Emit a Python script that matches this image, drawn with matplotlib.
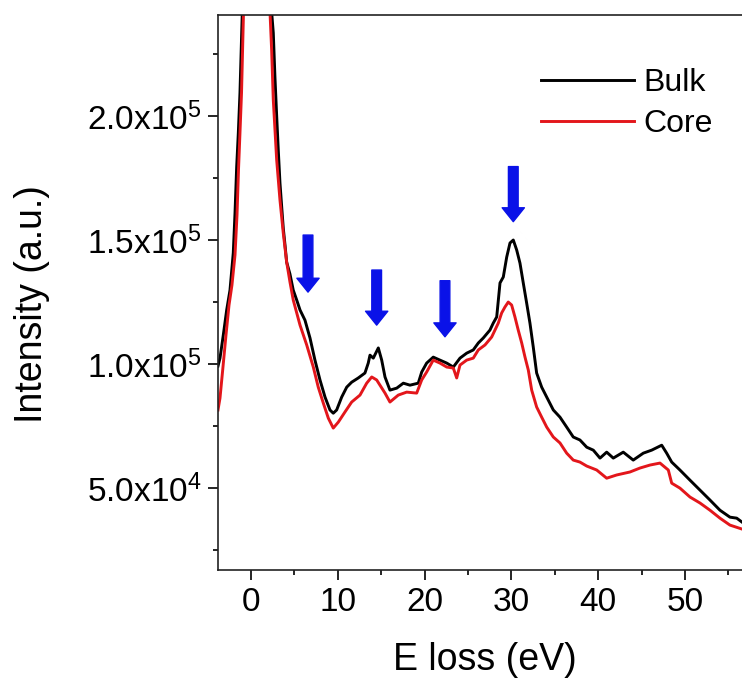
import matplotlib
matplotlib.use("Agg")
import matplotlib.pyplot as plt
from matplotlib.ticker import MultipleLocator, FuncFormatter

plt.rcParams['font.family'] = ['Liberation Sans', 'DejaVu Sans']
plt.rcParams['mathtext.fontset'] = 'custom'
plt.rcParams['mathtext.rm'] = 'Liberation Sans'

# spectra (E loss in eV, intensity in counts)
bulk_e = [-3.80, -3.57, -3.19, -2.80, -2.42, -2.04, -1.84, -1.65, -1.46, -1.27, -1.07, -1.00,
          0.80,
          2.38, 2.57, 2.76, 2.96, 3.15, 3.34, 3.54, 3.72, 3.92, 4.11, 4.49, 4.87, 5.27, 5.65,
          6.22, 6.80, 7.37, 7.95, 8.53, 9.10, 9.48, 9.87, 10.45, 11.03, 11.60, 12.36, 13.13,
          13.51, 13.71, 14.09, 14.67, 15.06, 15.44, 16.01, 16.79, 17.55, 18.32, 19.27, 19.67,
          20.24, 21.00, 21.77, 22.55, 23.31, 24.08, 24.85, 25.61, 26.19, 26.76, 27.53, 27.91,
          28.31, 28.69, 29.07, 29.46, 29.84, 30.22, 30.61, 30.99, 31.37, 31.76, 32.14, 32.52,
          32.91, 33.49, 34.07, 34.83, 35.60, 36.37, 37.13, 37.90, 38.68, 39.44, 40.21, 40.98,
          41.74, 42.89, 44.04, 45.20, 46.16, 47.32, 47.89, 48.47, 49.42, 50.58, 51.73, 52.88,
          54.03, 55.18, 55.96, 56.57]
bulk_i = [99200, 102400, 111700, 121800, 129800, 144800, 160900, 179400, 193100, 209300, 233500, 241900,
          600000,
          241900, 233500, 215700, 200000, 185900, 173000, 163300, 154800, 148000, 141100, 136300, 129800, 125800, 121800,
          117700, 110500, 101600, 93600, 86700, 81500, 80200, 81500, 86700, 90700, 92700, 94400, 96400,
          100400, 103600, 102400, 106500, 101600, 94800, 89500, 90300, 92300, 91500, 92300, 96800,
          100400, 102800, 101600, 100400, 98800, 102400, 104400, 105700, 108500, 110500, 113700, 116500,
          119000, 132700, 135100, 143100, 148800, 150000, 146000, 140700, 132700, 124600, 116500, 106900,
          96400, 90700, 86700, 81500, 78600, 74600, 70600, 69400, 66500, 65300, 62100, 64500,
          62100, 64500, 61300, 64100, 65300, 67300, 64100, 60500, 57300, 53200, 49200, 45200,
          41100, 38300, 37900, 36300]

core_e = [-3.80, -3.57, -3.26, -2.88, -2.53, -2.19, -1.84, -1.61, -1.44, -1.27, -1.09, -0.92, -0.86,
          0.70,
          2.19, 2.38, 2.57, 2.96, 3.34, 3.72, 4.11, 4.49, 4.87, 5.65, 6.42, 7.18, 7.75, 8.33,
          8.91, 9.48, 10.06, 10.83, 11.60, 12.56, 13.33, 13.91, 14.48, 14.86, 15.44, 16.01,
          16.97, 17.94, 19.09, 19.67, 20.24, 21.00, 21.77, 22.55, 23.31, 23.70, 24.08, 24.85,
          25.61, 26.19, 26.96, 27.73, 28.49, 28.88, 29.26, 29.64, 30.03, 30.41, 30.79, 31.19,
          31.57, 31.95, 32.34, 32.91, 33.49, 34.07, 34.83, 35.60, 36.37, 37.13, 37.90, 38.68,
          39.83, 40.98, 42.13, 43.66, 44.82, 45.97, 47.12, 48.08, 48.47, 49.42, 50.58, 51.73,
          52.88, 54.03, 55.18, 56.57]
core_i = [81500, 86300, 97600, 111700, 123800, 131900, 144000, 160100, 178200, 193100, 209300, 233500, 241900,
          600000,
          241900, 226600, 206500, 182300, 166100, 152800, 141100, 133100, 125800, 115700, 107700, 98800, 90700, 84300,
          78200, 74200, 76600, 80700, 84700, 87500, 92300, 94800, 93600, 91500, 88300, 84700,
          87500, 88700, 88300, 93600, 96800, 101600, 100400, 98800, 98400, 94400, 99600, 101600,
          102400, 105700, 107700, 110900, 116500, 120600, 123000, 125000, 123800, 119000, 113700, 108500,
          102800, 97600, 89500, 82700, 78600, 74600, 70600, 68200, 64100, 61300, 60500, 58900,
          57300, 54000, 55300, 56500, 58100, 59300, 60100, 57300, 52000, 50000, 46400, 44000,
          41100, 37900, 35100, 33500]

# blue arrows marking the plasmon features: (E, tail, tip)
arrow_e = [6.57, 14.48, 22.35, 30.22]
arrow_top = [152000, 137900, 133600, 179600]
arrow_tip = [129000, 115700, 111000, 157400]

fig = plt.figure(figsize=(7.42, 6.83), dpi=100)
ax = fig.add_axes([218 / 742, 1 - 570 / 683, 1 - 218 / 742, 555 / 683])

ax.plot(bulk_e, bulk_i, color='black', lw=2.1, label='Bulk')
ax.plot(core_e, core_i, color='#e3161b', lw=2.1, label='Core')

for e, t0, t1 in zip(arrow_e, arrow_top, arrow_tip):
    ax.annotate('', xy=(e, t1), xytext=(e, t0),
                arrowprops=dict(facecolor='#0a12e8', edgecolor='#0a12e8',
                                width=7, headwidth=16, headlength=10, shrink=0))

ax.set_xlim(-3.8, 56.57)
ax.set_ylim(17000, 240700)

ax.xaxis.set_major_locator(MultipleLocator(10))
ax.xaxis.set_minor_locator(MultipleLocator(5))
ax.yaxis.set_major_locator(MultipleLocator(50000))
ax.yaxis.set_minor_locator(MultipleLocator(25000))


def sci(v, pos):
    if v <= 0:
        return ''
    exp = 0
    m = v
    while m >= 10:
        m /= 10
        exp += 1
    return r'$\mathregular{%.1fx10^{%d}}$' % (m, exp)


ax.yaxis.set_major_formatter(FuncFormatter(sci))
ax.tick_params(which='major', direction='out', length=7, width=1.2, labelsize=24, pad=5)
ax.tick_params(which='minor', direction='out', length=3.6, width=1.2)
ax.spines['right'].set_visible(False)
for s in ['left', 'bottom', 'top']:
    ax.spines[s].set_linewidth(1.2)
    ax.spines[s].set_color('#222222')

ax.set_xlabel('E loss (eV)', fontsize=27)
ax.set_ylabel('Intensity (a.u.)', fontsize=27)
ax.xaxis.set_label_coords(0.51, -0.13)
ax.yaxis.set_label_coords(-0.32, 0.48)

ax.legend(loc='upper left', bbox_to_anchor=(0.617, 0.905), frameon=False, fontsize=23,
          handlelength=2.9, handletextpad=0.3, labelspacing=0.35, borderpad=0, borderaxespad=0)

fig.savefig('out.png', dpi=100)
